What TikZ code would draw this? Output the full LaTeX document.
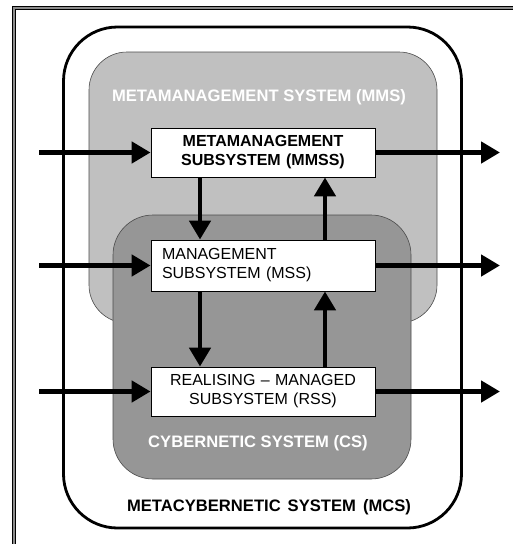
\documentclass[tikz,border=0pt]{standalone}
\usepackage{fontspec}
\setmainfont{Liberation Sans}
\usetikzlibrary{arrows.meta}

\definecolor{mmsgray}{RGB}{192,192,192}
\definecolor{csgray}{RGB}{150,150,150}

\begin{document}
\begin{tikzpicture}[x=1pt,y=-1pt,
    font=\fontsize{16pt}{19pt}\selectfont,
    region/.style={draw=black!70,line width=0.6pt,rounded corners=38pt,inner sep=0pt},
    box/.style={draw=black,fill=white,line width=0.8pt,text width=202pt,inner xsep=11pt,inner ysep=0pt,minimum height=49pt},
    flow/.style={line width=4.6pt,-{Triangle[length=19pt,width=21pt]}},
    syslabel/.style={font=\fontsize{16.6pt}{19pt}\selectfont\bfseries,inner sep=0pt}]
        \useasboundingbox (0,0) rectangle (513,544);
        % outer frame (cut by the page)
        \draw[line width=1.6pt,double=black!45,double distance=1.2pt] (14,546) -- (14,8) -- (515,8);
        % system regions
        \node[draw=black,line width=2.8pt,fill=white,rounded corners=54pt,inner sep=0pt,
          minimum width=398pt,minimum height=501pt] (mcs) at (262.5,277.5) {};
        \node[region,fill=mmsgray,minimum width=348pt,minimum height=271pt] (mms) at (263,187.5) {};
        \node[region,fill=csgray,rounded corners=40pt,minimum width=298pt,minimum height=264pt] (cs) at (262,347) {};
        \node[syslabel,text=white] (mmslabel) at (259,97) {METAMANAGEMENT SYSTEM (MMS)};
        \node[syslabel,text=white] (cslabel) at (258,443) {CYBERNETIC SYSTEM (CS)};
        \node[syslabel] (mcslabel) at (269,507) {METACYBERNETIC\hspace{7pt}SYSTEM\hspace{7pt}(MCS)};
        % subsystems
        \node[box,align=center,font=\fontsize{16pt}{19pt}\selectfont\bfseries] (mmss) at (263,152.5)
          {METAMANAGEMENT\\SUBSYSTEM (MMSS)};
        \node[box,align=left,minimum height=51pt] (mss) at (263,265.5)
          {MANAGEMENT\\SUBSYSTEM (MSS)};
        \node[box,align=center] (rss) at (263,391.5)
          {REALISING – MANAGED\\SUBSYSTEM (RSS)};
        % inputs and outputs
        \foreach \sub in {mmss,mss,rss}{
          \coordinate (\sub in) at (39,0 |- \sub.west);
          \coordinate (\sub out) at (500,0 |- \sub.east);
          \draw[flow] (\sub in) -- (\sub.west);
          \draw[flow] (\sub.east) -- (\sub out);
        }
        % control down, feedback up
        \draw[flow] ([xshift=-63pt]mmss.south) -- ([xshift=-63pt]mss.north);
        \draw[flow] ([xshift=-63pt]mss.south) -- ([xshift=-63pt]rss.north);
        \draw[flow] ([xshift=62pt]rss.north) -- ([xshift=62pt]mss.south);
        \draw[flow] ([xshift=62pt]mss.north) -- ([xshift=62pt]mmss.south);
\end{tikzpicture}
\end{document}
